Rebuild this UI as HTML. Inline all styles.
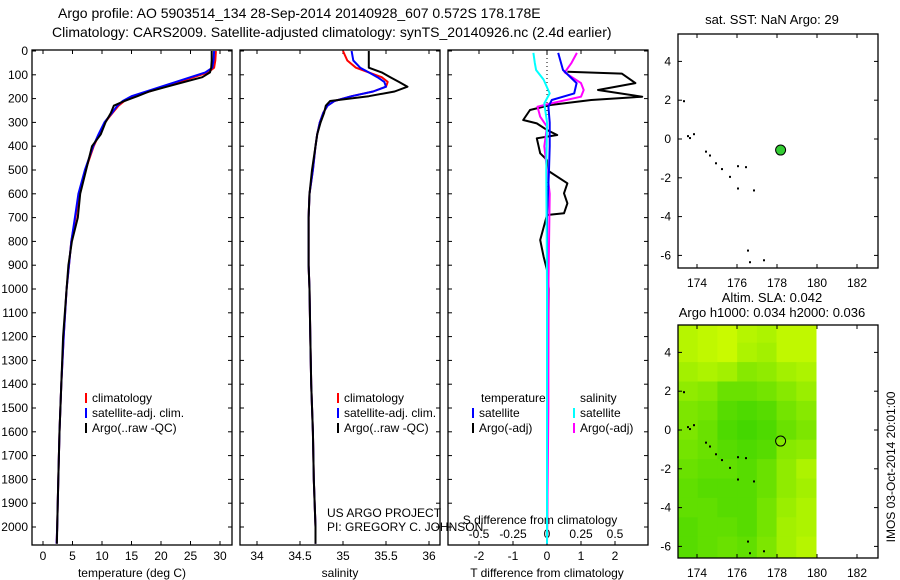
<!DOCTYPE html>
<html><head><meta charset="utf-8"><style>
body{margin:0;background:#fff;}
svg{display:block;font-family:"Liberation Sans",sans-serif;font-size:12px;}
</style></head><body>
<svg id="c" width="900" height="580" xmlns="http://www.w3.org/2000/svg"></svg>
<script>
// ---- data ----
const depthTicks=[0,100,200,300,400,500,600,700,800,900,1000,1100,1200,1300,1400,1500,1600,1700,1800,1900,2000];
const tempTicks=[0,5,10,15,20,25,30];
const salTicks=[34,34.5,35,35.5,36];
const salTickLabels=["34","34.5","35","35.5","36"];
const tdTicks=[-2,-1,0,1,2];
const sdTicks=[-0.5,-0.25,0,0.25,0.5];
const sdTickLabels=["-0.5","-0.25","0","0.25","0.5"];
const lonTicks=[174,176,178,180,182];
const latTicks=[4,2,0,-2,-4,-6];

const profDepth=[0,40,70,90,110,130,150,170,190,210,230,260,300,350,400,500,600,700,800,900,1000,1200,1400,1600,1800,2000,2070];
const tempClim=[29.3,29.2,29.0,28.0,25.5,23.0,20.5,18.0,15.5,13.8,12.8,11.8,10.5,9.5,8.6,7.2,6.1,5.5,4.8,4.4,4.0,3.5,3.1,2.8,2.6,2.4,2.3];
const tempSat=[29.0,28.9,28.7,27.5,25.0,22.5,20.0,17.5,15.0,13.5,12.6,11.7,10.4,9.4,8.5,7.1,6.0,5.4,4.8,4.4,4.0,3.5,3.1,2.8,2.6,2.4,2.3];
const tempArgo=[28.6,28.6,28.5,28.3,27.0,24.0,21.0,18.0,16.0,13.8,12.0,11.5,10.6,9.8,8.3,7.3,6.3,5.9,4.9,4.3,4.0,3.4,3.1,2.8,2.6,2.4,2.35];
const salClim=[35.0,35.05,35.15,35.3,35.45,35.52,35.5,35.35,35.1,34.9,34.82,34.77,34.73,34.7,34.68,34.65,34.61,34.6,34.6,34.6,34.61,34.62,34.63,34.65,34.66,34.68,34.68];
const salSat=[35.1,35.12,35.2,35.3,35.4,35.48,35.5,35.35,35.1,34.9,34.82,34.77,34.73,34.7,34.68,34.65,34.61,34.6,34.6,34.6,34.61,34.62,34.63,34.65,34.66,34.68,34.68];
const salArgo=[35.3,35.3,35.3,35.45,35.55,35.65,35.75,35.6,35.3,34.85,34.8,34.78,34.74,34.7,34.68,34.64,34.61,34.6,34.6,34.6,34.61,34.62,34.63,34.65,34.66,34.68,34.68];

const tdArgoDepth=[87,95,135,164,192,206,227,248,290,304,332,353,367,430,458,500,556,598,640,682,689,794,864,920,1000,1500,2070];
const tdArgo=[0.6,2.2,2.6,1.5,2.8,1.3,0.1,-0.5,-0.7,-0.3,0,0.3,-0.3,-0.2,0,0,0.6,0.5,0.6,0.5,0,-0.2,-0.1,0,0.05,0.02,0];
const tdSatDepth=[8,80,135,178,206,234,300,400,500,700,1000,1500,2070];
const tdSat=[0.33,0.47,0.87,0.8,0.14,0.04,0.08,0.08,0.06,0,0,0,0];
const sdCyanDepth=[8,50,80,120,178,220,300,500,1000,1500,2070];
const sdCyan=[-0.1,-0.09,-0.08,-0.025,0.02,-0.02,0,-0.005,0,0,0];
const sdMagDepth=[8,50,90,135,164,192,220,234,276,318,400,600,1000,1500,2070];
const sdMag=[0.22,0.18,0.13,0.25,0.27,0.25,0.03,-0.07,-0.05,0,-0.02,0.02,0.01,0.01,0];

const coastLon=[173.3,173.5,173.6,173.8,174.4,174.6,174.9,175.2,175.6,176.0,176.4,176.8,176.0,177.3,176.5,176.6];
const coastLat=[2.0,0.2,0.1,0.3,-0.6,-0.8,-1.2,-1.5,-1.9,-1.35,-1.4,-2.6,-2.5,-6.2,-5.7,-6.3];
const argoLon=178.18, argoLat=-0.57;

const slaLats=[5,4,3,2,1,0,-1,-2,-3,-4,-5,-6];
const slaGrid=[
[.8,.85,.9,.8,.75,.85,.85],
[.8,.85,.9,.75,.7,.85,.85],
[.7,.75,.7,.55,.6,.7,.75],
[.6,.55,.4,.4,.45,.55,.65],
[.5,.45,.3,.25,.3,.45,.55],
[.5,.4,.25,.2,.25,.4,.5],
[.45,.4,.3,.25,.3,.55,.6],
[.4,.35,.35,.3,.4,.6,.75],
[.35,.3,.3,.3,.4,.6,.7],
[.35,.35,.3,.3,.45,.65,.75],
[.3,.35,.35,.3,.45,.7,.75],
[.3,.35,.4,.35,.5,.7,.8]];

// ---- helpers ----
const svg=document.getElementById('c');const NS='http://www.w3.org/2000/svg';
function el(t,a,p){const e=document.createElementNS(NS,t);for(const k in a)e.setAttribute(k,a[k]);(p||svg).appendChild(e);return e;}
function txt(x,y,s,anchor,p,extra){const e=el('text',Object.assign({x:x,y:y,'text-anchor':anchor||'start',fill:'#000'},extra||{}),p);e.textContent=s;return e;}
const yD=d=>51+d*0.238;
const PT={l:32,r:232},PS={l:240,r:440},PD={l:448,r:648};
const xT=v=>43+v*5.9, xS=v=>257+(v-34)*86, xTD=v=>547+v*34, xSD=v=>547+v*136;
function line(xs,ys,color,w,name,p){
  const pts=xs.map((x,i)=>x.toFixed(1)+','+ys[i].toFixed(1)).join(' ');
  const e=el('polyline',{points:pts,fill:'none',stroke:color,'stroke-width':w,'stroke-linejoin':'round'},p);
  
  
  return e;
}
function panel(P,name,top,bottom){
  const g=el('g',{});
  
  
  el('rect',{x:P.l,y:top,width:P.r-P.l,height:bottom-top,fill:'none',stroke:'#000','stroke-width':1.3},g);
  return g;
}
// titles
const t1=txt(58,18,'Argo profile: AO 5903514_134 28-Sep-2014 20140928_607 0.572S 178.178E','start',svg,{'font-size':'14px'});

const t2=txt(52,37,'Climatology: CARS2009. Satellite-adjusted climatology: synTS_20140926.nc (2.4d earlier)','start',svg,{'font-size':'14px'});


const TOP=50,BOT=545;
// panel 1
const g1=panel(PT,'temperature-panel',TOP,BOT);
depthTicks.forEach(d=>{const y=yD(d);
  const lb=txt(28,y+4,String(d),'end',g1);
  
  el('line',{x1:PT.l,x2:PT.l+4,y1:y,y2:y,stroke:'#000'},g1);el('line',{x1:PT.r-4,x2:PT.r,y1:y,y2:y,stroke:'#000'},g1);});
tempTicks.forEach(v=>{const x=xT(v);txt(x,560,String(v),'middle',g1);
  el('line',{x1:x,x2:x,y1:BOT,y2:BOT-4,stroke:'#000'},g1);el('line',{x1:x,x2:x,y1:TOP,y2:TOP+4,stroke:'#000'},g1);});
txt(132,577,'temperature (deg C)','middle',g1);
const ys=profDepth.map(yD);
line(tempClim.map(xT),ys,'#f00',2,'temp-climatology-line',g1);
line(tempSat.map(xT),ys,'#00f',2,'temp-satellite-line',g1);
line(tempArgo.map(xT),ys,'#000',2,'temp-argo-line',g1);
function legend(g,x,y,entries){entries.forEach((e,i)=>{const yy=y+i*15;
  el('line',{x1:x,x2:x,y1:yy-9,y2:yy+1,stroke:e[0],'stroke-width':2},g);
  const l=txt(x+6,yy,e[1],'start',g);});}
legend(g1,86,402,[['#f00','climatology'],['#00f','satellite-adj. clim.'],['#000','Argo(..raw -QC)']]);

// panel 2
const g2=panel(PS,'salinity-panel',TOP,BOT);
depthTicks.forEach(d=>{const y=yD(d);el('line',{x1:PS.l,x2:PS.l+4,y1:y,y2:y,stroke:'#000'},g2);el('line',{x1:PS.r-4,x2:PS.r,y1:y,y2:y,stroke:'#000'},g2);});
salTicks.forEach((v,i)=>{const x=xS(v);txt(x,560,salTickLabels[i],'middle',g2);
  el('line',{x1:x,x2:x,y1:BOT,y2:BOT-4,stroke:'#000'},g2);el('line',{x1:x,x2:x,y1:TOP,y2:TOP+4,stroke:'#000'},g2);});
txt(340,577,'salinity','middle',g2);
line(salClim.map(xS),ys,'#f00',2,'sal-climatology-line',g2);
line(salSat.map(xS),ys,'#00f',2,'sal-satellite-line',g2);
line(salArgo.map(xS),ys,'#000',2,'sal-argo-line',g2);
legend(g2,338,402,[['#f00','climatology'],['#00f','satellite-adj. clim.'],['#000','Argo(..raw -QC)']]);
txt(327,517,'US ARGO PROJECT','start',g2);
txt(327,531,'PI: GREGORY C. JOHNSON','start',g2);

// panel 3
const g3=panel(PD,'difference-panel',TOP,BOT);
depthTicks.forEach(d=>{const y=yD(d);el('line',{x1:PD.l,x2:PD.l+4,y1:y,y2:y,stroke:'#000'},g3);el('line',{x1:PD.r-4,x2:PD.r,y1:y,y2:y,stroke:'#000'},g3);});
tdTicks.forEach(v=>{const x=xTD(v);txt(x,560,String(v),'middle',g3);
  el('line',{x1:x,x2:x,y1:BOT,y2:BOT-4,stroke:'#000'},g3);el('line',{x1:x,x2:x,y1:TOP,y2:TOP+4,stroke:'#000'},g3);});
sdTicks.forEach((v,i)=>{txt(xSD(v),538,sdTickLabels[i],'middle',g3);});
txt(540,524,'S difference from climatology','middle',g3);
txt(547,577,'T difference from climatology','middle',g3);
el('line',{x1:547,x2:547,y1:TOP,y2:BOT,stroke:'#000','stroke-dasharray':'1,3'},g3);
line(tdArgo.map(xTD),tdArgoDepth.map(yD),'#000',2,'tdiff-argo-line',g3);
line(sdMag.map(xSD),sdMagDepth.map(yD),'#f0f',2,'sdiff-argo-line',g3);
line(tdSat.map(xTD),tdSatDepth.map(yD),'#00f',2,'tdiff-satellite-line',g3);
line(sdCyan.map(xSD),sdCyanDepth.map(yD),'#0ff',2,'sdiff-satellite-line',g3);
txt(481,402,'temperature','start',g3);
legend(g3,473,417,[['#00f','satellite'],['#000','Argo(-adj)']]);
txt(580,402,'salinity','start',g3);
legend(g3,574,417,[['#0ff','satellite'],['#f0f','Argo(-adj)']]);

// map panels
const M={l:678,r:878};
const xL=v=>697+(v-174)*20;
function mapAxes(g,top,bot,yLat){
  lonTicks.forEach(v=>{const x=xL(v);el('line',{x1:x,x2:x,y1:bot,y2:bot-4,stroke:'#000'},g);el('line',{x1:x,x2:x,y1:top,y2:top+4,stroke:'#000'},g);txt(x,bot+19,String(v),'middle',g);});
  latTicks.forEach(v=>{const y=yLat(v);el('line',{x1:M.l,x2:M.l+4,y1:y,y2:y,stroke:'#000'},g);el('line',{x1:M.r-4,x2:M.r,y1:y,y2:y,stroke:'#000'},g);txt(671,y+4,String(v),'end',g);});
}
// panel 4
const yA=v=>139-v*19.4;
const g4=el('g',{});
txt(772,24,'sat. SST: NaN Argo: 29','middle',g4,{'font-size':'13px'});
coastLon.forEach((lo,i)=>el('rect',{x:xL(lo),y:yA(coastLat[i]),width:2,height:2,fill:'#000'},g4));
const dot=el('circle',{cx:xL(argoLon),cy:yA(argoLat),r:5,fill:'#33cc33',stroke:'#000'},g4);

el('rect',{x:M.l,y:34,width:200,height:234,fill:'none',stroke:'#000','stroke-width':1.3},g4);
mapAxes(g4,34,268,yA);

// panel 5
const yB=v=>430-v*19.4;
const g5=el('g',{});
txt(772,302,'Altim. SLA: 0.042','middle',g5,{'font-size':'13px'});
txt(772,317,'Argo h1000: 0.034 h2000: 0.036','middle',g5,{'font-size':'13px'});
const cw=(816-M.l)/7;
slaGrid.forEach((row,r)=>row.forEach((v,c)=>{
  const y0=r===0?325:yB(slaLats[r]+0.5), y1=r===slaGrid.length-1?558:yB(slaLats[r]-0.5);
  const col='rgb('+Math.round(30+v*190)+','+Math.round(205+v*50)+',0)';
  const cell=el('rect',{x:M.l+c*cw,y:y0,width:cw+0.5,height:y1-y0+0.5,fill:col},g5);
  
  
}));
coastLon.forEach((lo,i)=>el('rect',{x:xL(lo),y:yB(coastLat[i]),width:2,height:2,fill:'#000'},g5));
el('circle',{cx:xL(argoLon),cy:yB(argoLat),r:5,fill:'none',stroke:'#000'},g5);
el('rect',{x:M.l,y:325,width:200,height:233,fill:'none',stroke:'#000','stroke-width':1.3},g5);
mapAxes(g5,325,558,yB);
const ts=txt(0,0,'IMOS 03-Oct-2014 20:01:00','middle',svg,{transform:'translate(895,467) rotate(-90)'});

</script>
</body></html>
